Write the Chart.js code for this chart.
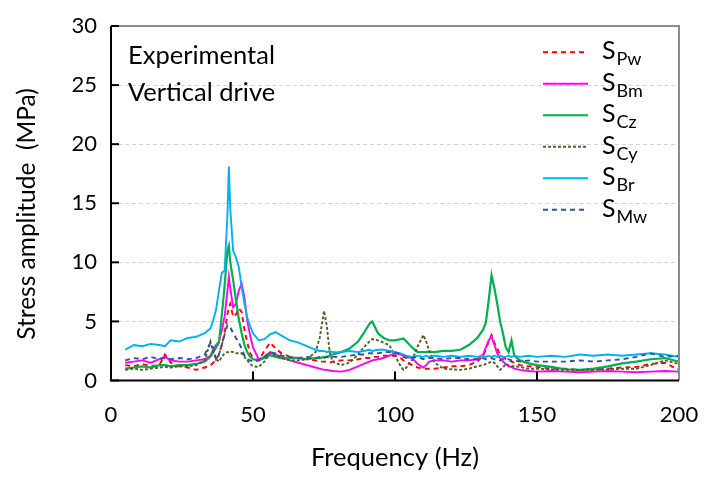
<!DOCTYPE html>
<html>
<head>
<meta charset="utf-8">
<script src="https://cdn.jsdelivr.net/npm/chart.js@4.4.1/dist/chart.umd.min.js"></script>
<style>
  html, body { margin: 0; padding: 0; background: #fff; }
  canvas { display: block; }
</style>
</head>
<body>
<canvas id="myChart" width="712" height="477"></canvas>
<script>
// frequency points (Hz), shared by all series
const freq = [5, 8, 11, 14, 17, 19, 21, 24, 27, 30,
  33, 35, 36, 37, 38, 39, 40, 41, 41.5, 42,
  43, 44, 45, 46, 47, 48, 49, 50, 52, 54,
  56, 58, 60, 63, 66, 69, 72, 73.5, 75, 76,
  77, 78, 81, 84, 87, 89, 91, 92, 94, 96,
  98, 100, 102, 103, 104, 106, 108, 110, 111, 112,
  114, 117, 120, 123, 126, 129, 131, 132, 133, 134,
  135, 136, 137, 138, 139, 140, 141, 142, 144, 147,
  150, 155, 160, 165, 170, 175, 180, 185, 190, 195,
  200];

// stress amplitude (MPa)
const sPw = [1.3, 1.2, 1.4, 1.2, 1.3, 2.2, 1.5, 1.2, 1.1, 0.9,
  1.1, 1.3, 1.5, 1.8, 2.2, 3.0, 4.0, 5.6, 6.2, 6.5,
  5.4, 5.6, 6.1, 5.8, 4.3, 3.2, 2.3, 1.9, 1.7, 2.5,
  3.2, 2.7, 2.3, 2.0, 1.9, 1.8, 1.7, 1.6, 1.6, 1.6,
  1.5, 1.6, 1.7, 1.7, 1.8, 1.9, 1.9, 2.0, 2.0, 2.1,
  2.1, 2.1, 1.9, 1.7, 1.6, 1.3, 1.1, 1.0, 1.0, 1.0,
  1.0, 1.1, 1.2, 1.2, 1.3, 1.6, 2.1, 2.6, 3.3, 3.85,
  3.2, 2.7, 2.2, 2.0, 1.8, 1.7, 1.6, 1.5, 1.3, 1.2,
  1.15, 1.0, 1.0, 0.9, 0.9, 1.0, 1.1, 1.15, 1.4, 1.5,
  0.9];
const sBm = [1.5, 1.6, 1.7, 1.5, 1.8, 2.0, 1.7, 1.6, 1.6, 1.7,
  1.8, 2.1, 2.6, 3.0, 3.3, 4.2, 5.4, 7.6, 8.8, 7.8,
  6.2, 6.5, 7.6, 8.2, 7.0, 5.0, 3.8, 2.8, 1.8, 2.0,
  2.4, 2.2, 2.0, 1.7, 1.5, 1.3, 1.1, 1.0, 0.9, 0.9,
  0.85, 0.8, 0.75, 0.9, 1.2, 1.4, 1.6, 1.7, 1.8, 1.9,
  2.1, 2.3, 2.2, 2.1, 2.0, 1.9, 1.4, 1.1, 1.3, 1.6,
  1.7, 1.7, 1.6, 1.7, 1.7, 1.8, 2.2, 2.8, 3.4, 3.7,
  3.0, 2.3, 1.9, 1.6, 1.4, 1.2, 1.15, 1.0, 0.9, 0.8,
  0.75, 0.8, 0.75, 0.7, 0.75, 0.8, 0.75, 0.7, 0.75, 0.8,
  0.75];
const sCz = [1.0, 1.1, 1.2, 1.1, 1.3, 1.3, 1.2, 1.3, 1.3, 1.4,
  1.6, 2.0, 2.4, 2.8, 3.2, 5.5, 8.0, 11.0, 11.4, 10.0,
  8.5, 6.8, 5.2, 4.0, 3.0, 2.4, 2.0, 1.8, 1.7, 1.9,
  2.15, 2.0, 1.9, 1.9, 1.9, 1.8, 1.9, 1.9, 2.0, 2.0,
  2.1, 2.2, 2.4, 2.7, 3.3, 4.0, 4.8, 5.0, 4.0, 3.6,
  3.4, 3.4, 3.5, 3.55, 3.3, 2.8, 2.4, 2.4, 2.4, 2.45,
  2.4, 2.5, 2.5, 2.6, 3.0, 3.6, 4.3, 4.9, 6.8, 8.9,
  7.8, 6.5, 5.0, 4.0, 2.8, 2.4, 3.4, 2.1, 1.7, 1.45,
  1.3, 1.15, 0.95, 0.9, 1.0, 1.2, 1.45, 1.6, 1.8, 1.9,
  1.6];
const sCy = [0.9, 1.0, 0.9, 1.0, 1.1, 1.15, 1.1, 1.2, 1.2, 1.3,
  1.7, 3.3, 2.4, 1.8, 1.6, 2.0, 2.3, 2.4, 2.4, 2.45,
  2.4, 2.3, 2.3, 2.3, 2.0, 1.7, 1.4, 1.2, 1.15, 1.6,
  2.3, 2.1, 1.9, 1.7, 1.7, 1.8, 2.4, 3.6, 5.9, 4.6,
  2.4, 1.6, 1.3, 1.5, 2.2, 2.8, 3.3, 3.5, 3.4, 3.2,
  3.0, 2.1, 1.2, 0.9, 1.1, 1.7, 2.9, 3.85, 3.3, 2.5,
  1.5, 1.0, 0.95, 0.9, 1.0, 1.2, 1.3, 1.4, 1.5, 1.6,
  1.5, 1.2, 0.9, 1.1, 1.4, 1.3, 1.2, 1.2, 1.15, 1.0,
  1.0, 0.95, 0.9, 0.9, 0.9, 0.95, 1.0, 1.0, 1.3, 1.7,
  1.4];
const sBr = [2.6, 3.0, 2.9, 3.1, 3.0, 2.9, 3.4, 3.3, 3.6, 3.7,
  4.0, 4.4, 5.1, 6.0, 7.6, 9.1, 9.3, 14.0, 18.1, 14.5,
  11.0, 10.4, 9.6, 7.9, 6.5, 5.3, 4.6, 4.0, 3.4, 3.5,
  3.9, 4.1, 3.8, 3.4, 3.2, 2.9, 2.6, 2.5, 2.5, 2.4,
  2.5, 2.4, 2.4, 2.5, 2.4, 2.5, 2.6, 2.5, 2.6, 2.6,
  2.5, 2.4, 2.3, 2.2, 2.1, 2.0, 2.1, 2.0, 2.1, 2.0,
  2.1, 2.0, 2.1, 2.0, 2.1, 2.0, 2.1, 2.0, 2.1, 2.0,
  2.1, 2.0, 2.1, 2.0, 2.0, 2.1, 2.0, 2.1, 2.0, 2.1,
  2.0, 2.1, 2.0, 2.2, 2.1, 2.2, 2.1, 2.2, 2.3, 2.2,
  2.0];
const sMw = [1.7, 1.9, 1.8, 2.0, 1.8, 1.9, 1.8, 1.9, 1.8, 1.9,
  2.2, 3.2, 2.8, 1.8, 2.2, 3.0, 3.9, 4.7, 4.6, 4.5,
  4.0, 3.6, 3.2, 2.7, 2.1, 1.8, 1.7, 1.6, 1.7, 2.0,
  2.4, 2.3, 2.1, 2.0, 1.9, 2.0, 1.9, 2.0, 1.9, 2.0,
  1.9, 2.0, 2.0, 2.1, 2.2, 2.2, 2.3, 2.3, 2.3, 2.4,
  2.4, 2.4, 2.2, 2.0, 1.9, 1.9, 2.0, 1.8, 1.9, 1.9,
  1.9, 1.8, 1.9, 1.9, 1.8, 1.8, 1.9, 1.8, 1.8, 1.9,
  1.8, 1.8, 1.7, 1.8, 1.7, 1.8, 1.7, 1.7, 1.6, 1.7,
  1.6, 1.6, 1.6, 1.7, 1.6, 1.7, 1.8, 2.0, 2.3, 2.0,
  2.1];

const subNames = ['Pw', 'Bm', 'Cz', 'Cy', 'Br', 'Mw'];
const xTicks = [0, 50, 100, 150, 200];
const yTicks = [0, 5, 10, 15, 20, 25, 30];
const noteLines = ['Experimental', 'Vertical drive'];

const FONT = "Lato, 'Open Sans', sans-serif";

function pts(vals) {
  return freq.map((f, i) => ({ x: f, y: vals[i] }));
}

const styles = [
  { color: '#FF0000', dash: [5, 4] },
  { color: '#FF00FF', dash: [] },
  { color: '#00B050', dash: [] },
  { color: '#4F6228', dash: [3, 2] },
  { color: '#00B0F0', dash: [] },
  { color: '#2F5597', dash: [5, 4] }
];
const allVals = [sPw, sBm, sCz, sCy, sBr, sMw];

const datasets = allVals.map((vals, i) => ({
  label: 'S' + subNames[i],
  sub: subNames[i],
  data: pts(vals),
  borderColor: styles[i].color,
  borderDash: styles[i].dash,
  borderWidth: i === 2 ? 2.2 : 1.9,
  pointRadius: 0,
  tension: 0,
  fill: false,
  order: 5 - i
}));

// frame, inner tick marks, legend with subscripts, note text, y title
const decor = {
  id: 'decor',
  afterDraw(chart) {
    const ctx = chart.ctx;
    const a = chart.chartArea;
    const xs = chart.scales.x, ys = chart.scales.y;
    ctx.save();
    // grey top/right frame
    ctx.strokeStyle = '#8C8C8C';
    ctx.lineWidth = 2;
    ctx.beginPath();
    ctx.moveTo(a.left, a.top);
    ctx.lineTo(a.right, a.top);
    ctx.lineTo(a.right, a.bottom);
    ctx.stroke();
    // black axes
    ctx.strokeStyle = '#000';
    ctx.beginPath();
    ctx.moveTo(a.left, a.top);
    ctx.lineTo(a.left, a.bottom);
    ctx.lineTo(a.right, a.bottom);
    ctx.stroke();
    // inner ticks
    yTicks.forEach(v => {
      const y = ys.getPixelForValue(v);
      ctx.beginPath();
      ctx.moveTo(a.left, y);
      ctx.lineTo(a.left + 8, y);
      ctx.stroke();
    });
    xTicks.slice(1, -1).forEach(v => {
      const x = xs.getPixelForValue(v);
      ctx.beginPath();
      ctx.moveTo(x, a.bottom);
      ctx.lineTo(x, a.bottom - 9);
      ctx.stroke();
    });
    // note text
    ctx.fillStyle = '#000';
    ctx.font = '25.5px ' + FONT;
    ctx.textAlign = 'left';
    ctx.textBaseline = 'alphabetic';
    noteLines.forEach((t, i) => ctx.fillText(t, 128, 64 + i * 37));
    // legend
    chart.data.datasets.forEach((ds, i) => {
      const y = 52.3 + i * 31.5;
      ctx.strokeStyle = ds.borderColor;
      ctx.lineWidth = 2;
      ctx.setLineDash(ds.borderDash);
      ctx.beginPath();
      ctx.moveTo(543, y);
      ctx.lineTo(588, y);
      ctx.stroke();
      ctx.setLineDash([]);
      ctx.fillStyle = '#000';
      ctx.font = '25px ' + FONT;
      ctx.fillText('S', 602, y + 7);
      const w = ctx.measureText('S').width;
      ctx.font = '18px ' + FONT;
      ctx.fillText(ds.sub, 602 + w + 1, y + 13);
    });
    // y axis title
    ctx.translate(27, 214);
    ctx.rotate(-Math.PI / 2);
    ctx.textAlign = 'center';
    ctx.textBaseline = 'middle';
    ctx.font = '24.5px ' + FONT;
    ctx.fillText('Stress amplitude  (MPa)', 0, 0);
    ctx.restore();
  }
};

new Chart(document.getElementById('myChart').getContext('2d'), {
  type: 'line',
  data: { datasets },
  options: {
    responsive: false,
    animation: false,
    layout: { padding: { left: 0, right: 33, top: 26, bottom: 0 } },
    plugins: { legend: { display: false }, tooltip: { enabled: false } },
    scales: {
      x: {
        type: 'linear',
        min: 0,
        max: 200,
        afterBuildTicks: s => { s.ticks = xTicks.map(v => ({ value: v })); },
        afterFit: s => { s.height = 96.5; s.paddingLeft = 0; s.paddingRight = 0; },
        grid: { display: false, drawTicks: false },
        border: { display: false },
        ticks: { font: { family: FONT, size: 22 }, color: '#000', padding: 21, maxRotation: 0 },
        title: {
          display: true,
          text: 'Frequency (Hz)',
          font: { family: FONT, size: 25.5 },
          color: '#000',
          padding: { top: 0, bottom: 4 }
        }
      },
      y: {
        min: 0,
        max: 30,
        afterBuildTicks: s => { s.ticks = yTicks.map(v => ({ value: v })); },
        afterFit: s => { s.width = 111; s.paddingTop = 0; s.paddingBottom = 0; },
        grid: {
          drawTicks: false,
          color: ctx => (ctx.tick && (ctx.tick.value === 0 || ctx.tick.value === 30)) ? 'rgba(0,0,0,0)' : '#D4D4D4',
          lineWidth: 1
        },
        border: { display: false, dash: [4, 3] },
        ticks: { font: { family: FONT, size: 22 }, color: '#000', padding: 14 }
      }
    }
  },
  plugins: [decor]
});
</script>
</body>
</html>
